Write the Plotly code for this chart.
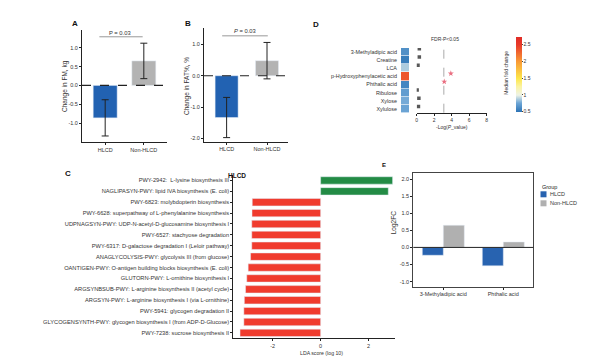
import plotly.graph_objects as go

# ---------------- data ----------------
groups = ["HLCD", "Non-HLCD"]
fm_change = [-0.86, 0.65]
fm_err = [0.48, 0.47]
fat_change = [-1.33, 0.48]
fat_err = [0.64, 0.58]

metabolites = ["3-Methyladipic acid", "Creatine", "LCA", "p-Hydroxyphenylacetic acid",
               "Phthalic acid", "Ribulose", "Xylose", "Xylulose"]
median_fc = [0.65, 0.55, 0.88, 2.35, 0.6, 0.72, 0.78, 0.75]
neglog_p = [0.3, 0.3, 0.15, 3.9, 3.15, 0.05, 0.25, 0.2]
fdr_threshold = 3.1

pathways = [
    "PWY-2942:  L-lysine biosynthesis III",
    "NAGLIPASYN-PWY: lipid IVA biosynthesis (E. coli)",
    "PWY-6823: molybdopterin biosynthesis",
    "PWY-6628: superpathway of L-phenylalanine biosynthesis",
    "UDPNAGSYN-PWY: UDP-N-acetyl-D-glucosamine biosynthesis I",
    "PWY-6527: stachyose degradation",
    "PWY-6317: D-galactose degradation I (Leloir pathway)",
    "ANAGLYCOLYSIS-PWY: glycolysis III (from glucose)",
    "OANTIGEN-PWY: O-antigen building blocks biosynthesis (E. coli)",
    "GLUTORN-PWY: L-ornithine biosynthesis I",
    "ARGSYNBSUB-PWY: L-arginine biosynthesis II (acetyl cycle)",
    "ARGSYN-PWY: L-arginine biosynthesis I (via L-ornithine)",
    "PWY-5941: glycogen degradation II",
    "GLYCOGENSYNTH-PWY: glycogen biosynthesis I (from ADP-D-Glucose)",
    "PWY-7238: sucrose biosynthesis II",
]
lda_scores = [3.0, 2.82, -2.85, -2.86, -2.87, -2.87, -2.87, -2.92, -3.02,
              -3.08, -3.13, -3.18, -3.2, -3.2, -3.36]

e_metabolites = ["3-Methyladipic acid", "Phthalic acid"]
e_groups = ["HLCD", "Non-HLCD"]
e_hlcd = [-0.23, -0.54]
e_non = [0.65, 0.16]

BLUE = "#2262b2"
GRAY = "#b3b3b3"
E_COLORS = ["#2863b0", "#b0b0b0"]
FONT = "Liberation Sans, Arial, sans-serif"
TXT = "#333333"

fig = go.Figure()

# ---------------- panel A ----------------
fig.add_trace(go.Bar(x=groups, y=fm_change, marker_color=[BLUE, GRAY], width=0.62,
                     error_y=dict(type="data", array=fm_err, color="#222", thickness=1, width=3.5),
                     xaxis="x", yaxis="y", showlegend=False))
# ---------------- panel B ----------------
fig.add_trace(go.Bar(x=groups, y=fat_change, marker_color=[BLUE, GRAY], width=0.57,
                     error_y=dict(type="data", array=fat_err, color="#222", thickness=1, width=3.5),
                     xaxis="x2", yaxis="y2", showlegend=False))

# ---------------- panel D heatmap ----------------
colorscale = [
    [0.0, "#2c73b5"], [0.12, "#6ea6d6"], [0.224, "#eef3e6"],
    [0.34, "#fbf3a0"], [0.448, "#fde64a"], [0.673, "#f99a35"],
    [0.897, "#e8392a"], [1.0, "#e02c26"],
]
fig.add_trace(go.Heatmap(z=[[v] for v in median_fc], y=metabolites, x=["fc"],
                         colorscale=colorscale, zmin=0.5, zmax=2.73, ygap=0.6,
                         xaxis="x3", yaxis="y3",
                         colorbar=dict(x=516/600, xanchor="left", y=1-74.2/360, yanchor="middle",
                                       len=75/360, lenmode="fraction", thickness=6, outlinewidth=0,
                                       tickvals=[0.5, 1, 1.5, 2, 2.5],
                                       ticktext=["0.5", "1", "1.5", "2", "2.5"],
                                       tickfont=dict(size=5, color=TXT), ticks="outside", ticklen=1,
                                       xpad=0, ypad=0)))

# ---------------- panel D scatter ----------------
sig = [p > fdr_threshold for p in neglog_p]
fig.add_trace(go.Scatter(x=neglog_p, y=metabolites, mode="markers",
                         marker=dict(symbol=["star" if s else "square" for s in sig],
                                     color=["#e0304a" if s else "#111" for s in sig],
                                     size=[4.5 if s else 3.5 for s in sig], line=dict(width=0)),
                         xaxis="x4", yaxis="y4", showlegend=False))

# ---------------- panel C ----------------
fig.add_trace(go.Bar(x=lda_scores, y=pathways, orientation="h", width=0.68,
                     marker_color=["#238b45" if v > 0 else "#f03b2e" for v in lda_scores],
                     xaxis="x5", yaxis="y5", showlegend=False))

# ---------------- panel E ----------------
fig.add_trace(go.Bar(x=e_metabolites, y=e_hlcd, name=e_groups[0], marker_color=E_COLORS[0],
                     xaxis="x6", yaxis="y6", showlegend=False))
fig.add_trace(go.Bar(x=e_metabolites, y=e_non, name=e_groups[1], marker_color=E_COLORS[1],
                     xaxis="x6", yaxis="y6", showlegend=False))

tickf = dict(size=5.5, color=TXT, family=FONT)
line_ax = dict(showline=True, linecolor="#222", linewidth=1, ticks="outside", ticklen=2,
               tickcolor="#222", showgrid=False, zeroline=False, tickfont=tickf, automargin=False)

def no(d, *keys):
    return {k: v for k, v in d.items() if k not in keys}

fig.update_layout(
    width=600, height=360, margin=dict(l=0, r=0, t=0, b=0, autoexpand=False),
    paper_bgcolor="white", plot_bgcolor="rgba(0,0,0,0)",
    font=dict(family=FONT, color=TXT, size=6),
    barmode="group", showlegend=False,
    xaxis=dict(domain=[82/600, 167/600], range=[-0.6, 1.6], anchor="y", **line_ax),
    yaxis=dict(domain=[1-142/360, 1-30/360], range=[-1.5, 1.47], anchor="x",
               tickvals=[-1, -0.5, 0, 0.5, 1], ticktext=["-1.0", "-0.5", "0.0", "0.5", "1.0"], **line_ax),
    xaxis2=dict(domain=[204/600, 288/600], range=[-0.56, 1.52], anchor="y2", **line_ax),
    yaxis2=dict(domain=[1-141.7/360, 1-28.3/360], range=[-2.1, 1.51], anchor="x2",
                tickvals=[-2, -1, 0, 1], ticktext=["-2.0", "-1.0", "0.0", "1.0"], **line_ax),
    xaxis3=dict(domain=[401/600, 409/600], anchor="y3", visible=False),
    yaxis3=dict(domain=[1-113/360, 1-48/360], anchor="x3", autorange="reversed",
                showline=False, ticks="outside", ticklen=0, tickfont=dict(size=5.4, color=TXT, family=FONT),
                ticklabelstandoff=2),
    xaxis4=dict(domain=[416.7/600, 486.7/600], anchor="y4", range=[0, 8],
                tickvals=[0, 2, 4, 6, 8], **no(line_ax, "tickfont"),
                tickfont=dict(size=5, color=TXT, family=FONT)),
    yaxis4=dict(domain=[1-113/360, 1-48/360], anchor="x4", range=[7.8, -0.1],
                visible=False),
    xaxis5=dict(domain=[233.3/600, 395/600], anchor="y5", range=[-3.64, 3.1],
                tickvals=[-2, 0, 2], ticktext=["-2", "0", "2"], **line_ax),
    yaxis5=dict(domain=[1-338.3/360, 1-175/360], anchor="x5", autorange="reversed",
                **no(line_ax, "tickfont"), tickfont=dict(size=5.7, color=TXT, family=FONT)),
    xaxis6=dict(domain=[413.3/600, 533.3/600], anchor="y6", mirror=True,
                **no(line_ax, "linecolor"), linecolor="#444"),
    yaxis6=dict(domain=[1-286.7/360, 1-173.3/360], anchor="x6", range=[-1.15, 2.17], mirror=True,
                tickvals=[-1, -0.5, 0, 0.5, 1, 1.5, 2],
                ticktext=["-1.0", "-0.5", "0.0", "0.5", "1.0", "1.5", "2.0"],
                **no(line_ax, "linecolor"), linecolor="#444"),
    bargap=0.3, bargroupgap=0,
)

shapes = []
# dashed zero lines A and B
shapes.append(dict(type="line", xref="x domain", yref="y", x0=0, x1=1.035, y0=0, y1=0,
                   line=dict(color="#222", width=1.2, dash="dash")))
shapes.append(dict(type="line", xref="x2 domain", yref="y2", x0=0, x1=1.025, y0=0, y1=0,
                   line=dict(color="#222", width=1.2, dash="dash")))
# P brackets
shapes.append(dict(type="line", xref="x", yref="y", x0=-0.15, x1=0.97, y0=1.29, y1=1.29,
                   line=dict(color="#999", width=1)))
shapes.append(dict(type="line", xref="x2", yref="y2", x0=-0.11, x1=1.02, y0=1.27, y1=1.27,
                   line=dict(color="#999", width=1)))
# FDR line
shapes.append(dict(type="line", xref="x4", yref="paper", x0=fdr_threshold, x1=fdr_threshold,
                   y0=1-112.7/360, y1=1-43/360, line=dict(color="#aaa", width=1, dash="dash")))
# zero line E
shapes.append(dict(type="line", xref="x6 domain", yref="y6", x0=0, x1=1, y0=0, y1=0,
                   line=dict(color="#222", width=1)))
# manual legend swatches for E
for i, c in enumerate(E_COLORS):
    yc = 194.3 + i * 9
    shapes.append(dict(type="rect", xref="paper", yref="paper",
                       x0=540.5/600, x1=546.5/600, y0=1-(yc+3)/360, y1=1-(yc-3)/360,
                       fillcolor=c, line=dict(width=0)))
fig.update_layout(shapes=shapes)

def ann(x, y, text, size=6, angle=0, bold=False, color=TXT, xanchor="center"):
    return dict(x=x/600, y=1-y/360, xref="paper", yref="paper", text=f"<b>{text}</b>" if bold else text,
                showarrow=False, textangle=angle, xanchor=xanchor, yanchor="middle",
                font=dict(size=size, color=color, family=FONT))

annotations = [
    ann(75, 23, "A", 8, bold=True, color="#111"),
    ann(188, 24, "B", 8, bold=True, color="#111"),
    ann(316, 25, "D", 8, bold=True, color="#111"),
    ann(68, 173, "C", 8, bold=True, color="#111"),
    ann(384, 165, "E", 6, bold=True, color="#111"),
    ann(120, 32.5, "P = 0.03", 5.8),
    ann(245, 30.5, "<i>P</i> = 0.03", 5.8),
    ann(65, 86, "Change in FM, kg", 6.5, angle=-90),
    ann(187, 86, "Change in FAT%, %", 6.5, angle=-90),
    ann(445, 39.3, "FDR-P<0.05", 5),
    ann(451.7, 126.7, "-Log(<i>P</i>_value)", 5),
    ann(505.7, 73, "Median fold change", 5, angle=-90),
    ann(237, 175, "HLCD", 6.5, bold=True, color="#111"),
    ann(321.7, 353.3, "LDA score (log 10)", 5.2),
    ann(394, 223.3, "Log2FC", 6.5, angle=-90),
    ann(540, 186.7, "Group", 5.5, color="#222", xanchor="left"),
]
for i, g in enumerate(e_groups):
    annotations.append(ann(547.5, 194.3 + i * 9, g, 5.5, xanchor="left"))
fig.update_layout(annotations=annotations)

fig.write_html("out.html", config={"displayModeBar": False},
               post_script="document.body.style.margin='0';document.body.style.overflow='hidden';")
